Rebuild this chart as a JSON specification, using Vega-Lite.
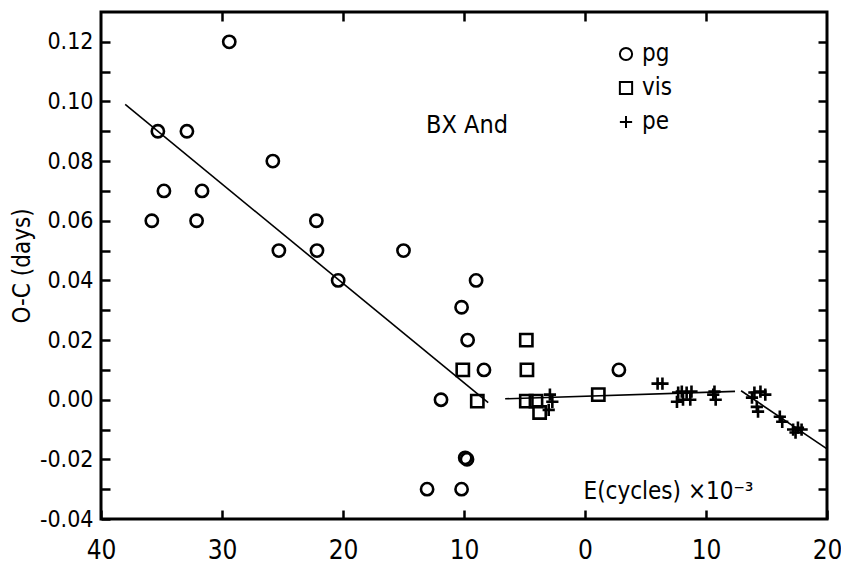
{
  "$schema": "https://vega.github.io/schema/vega-lite/v6.json",
  "width": 726,
  "height": 507,
  "autosize": "none",
  "padding": {"left": 101, "top": 12, "right": 14, "bottom": 52},
  "background": "white",
  "config": {
    "font": "DejaVu Sans Condensed, Liberation Sans Narrow, DejaVu Sans",
    "view": {"stroke": "black", "strokeWidth": 3},
    "axis": {"grid": false, "domain": false, "labelColor": "black", "titleColor": "black", "tickColor": "black", "tickWidth": 2.5, "titleFontWeight": "normal"},
    "legend": {"labelColor": "black"}
  },
  "datasets": {
    "segs": [
      {"seg": "a", "E": 38.0, "oc": 0.099},
      {"seg": "a", "E": 8.0, "oc": -0.001},
      {"seg": "b", "E": 6.6, "oc": 0.0003},
      {"seg": "b", "E": -12.4, "oc": 0.0028},
      {"seg": "c", "E": -12.9, "oc": 0.003},
      {"seg": "c", "E": -20.0, "oc": -0.0165}
    ],
    "pts": [
      {"series": "pg", "E": 35.8, "oc": 0.06},
      {"series": "pg", "E": 35.3, "oc": 0.09},
      {"series": "pg", "E": 34.8, "oc": 0.07},
      {"series": "pg", "E": 32.9, "oc": 0.09},
      {"series": "pg", "E": 32.1, "oc": 0.06},
      {"series": "pg", "E": 31.65, "oc": 0.07},
      {"series": "pg", "E": 29.4, "oc": 0.12},
      {"series": "pg", "E": 25.8, "oc": 0.08},
      {"series": "pg", "E": 25.3, "oc": 0.05},
      {"series": "pg", "E": 22.2, "oc": 0.06},
      {"series": "pg", "E": 22.15, "oc": 0.05},
      {"series": "pg", "E": 20.4, "oc": 0.04},
      {"series": "pg", "E": 15.0, "oc": 0.05},
      {"series": "pg", "E": 11.9, "oc": 0.0},
      {"series": "pg", "E": 10.2, "oc": 0.031},
      {"series": "pg", "E": 9.7, "oc": 0.02},
      {"series": "pg", "E": 9.0, "oc": 0.04},
      {"series": "pg", "E": 8.35, "oc": 0.01},
      {"series": "pg", "E": 9.75, "oc": -0.02},
      {"series": "pg", "E": 9.9, "oc": -0.0195},
      {"series": "pg", "E": 13.05, "oc": -0.03},
      {"series": "pg", "E": 10.2, "oc": -0.03},
      {"series": "pg", "E": -2.8, "oc": 0.01},
      {"series": "vis", "E": 10.1, "oc": 0.01},
      {"series": "vis", "E": 8.9, "oc": -0.0005},
      {"series": "vis", "E": 4.85, "oc": 0.02},
      {"series": "vis", "E": 4.8, "oc": 0.01},
      {"series": "vis", "E": 4.85, "oc": -0.0005},
      {"series": "vis", "E": 4.05, "oc": -0.0005},
      {"series": "vis", "E": 3.75, "oc": -0.0043},
      {"series": "vis", "E": -1.1, "oc": 0.0017},
      {"series": "pe", "E": 2.9, "oc": 0.0017},
      {"series": "pe", "E": 2.7, "oc": -0.0007},
      {"series": "pe", "E": 3.0, "oc": -0.0034},
      {"series": "pe", "E": -6.0, "oc": 0.0054},
      {"series": "pe", "E": -6.4, "oc": 0.0054},
      {"series": "pe", "E": -7.7, "oc": 0.0024},
      {"series": "pe", "E": -8.0, "oc": 0.0027},
      {"series": "pe", "E": -8.4, "oc": 0.0024},
      {"series": "pe", "E": -8.8, "oc": 0.0027},
      {"series": "pe", "E": -7.6, "oc": -0.0007},
      {"series": "pe", "E": -8.1, "oc": 0.0},
      {"series": "pe", "E": -8.7, "oc": 0.0},
      {"series": "pe", "E": -10.7, "oc": 0.0027},
      {"series": "pe", "E": -10.8, "oc": 0.0},
      {"series": "pe", "E": -10.6, "oc": 0.0017},
      {"series": "pe", "E": -14.0, "oc": 0.0024},
      {"series": "pe", "E": -14.5, "oc": 0.0027},
      {"series": "pe", "E": -14.9, "oc": 0.0017},
      {"series": "pe", "E": -13.8, "oc": 0.0007},
      {"series": "pe", "E": -14.2, "oc": -0.0024},
      {"series": "pe", "E": -14.3, "oc": -0.004},
      {"series": "pe", "E": -16.1, "oc": -0.0057},
      {"series": "pe", "E": -16.3, "oc": -0.0074},
      {"series": "pe", "E": -17.2, "oc": -0.01},
      {"series": "pe", "E": -17.6, "oc": -0.0094},
      {"series": "pe", "E": -17.9, "oc": -0.01},
      {"series": "pe", "E": -17.4, "oc": -0.011}
    ],
    "notes": [
      {"label": "BX And", "E": 9.75, "oc": 0.092}
    ]
  },
  "resolve": {"axis": {"x": "independent", "y": "independent"}},
  "layer": [
    {
      "data": {"name": "segs"},
      "mark": {"type": "line", "color": "black", "strokeWidth": 1.6},
      "encoding": {
        "x": {
          "field": "E", "type": "quantitative",
          "scale": {"domain": [-20, 40], "reverse": true, "nice": false, "zero": false},
          "axis": {
            "orient": "bottom",
            "values": [40, 30, 20, 10, 0, -10, -20],
            "labelExpr": "format(abs(datum.value), 'd')",
            "tickSize": -9,
            "labelPadding": 27,
            "labelFontSize": 26,
            "labelFlush": false,
            "title": "E(cycles) ×10⁻³",
            "titleFontSize": 24,
            "titleAlign": "left",
            "titleBaseline": "alphabetic",
            "titleX": 482,
            "titleY": -21
          }
        },
        "y": {
          "field": "oc", "type": "quantitative",
          "scale": {"domain": [-0.04, 0.13], "nice": false, "zero": false},
          "axis": {
            "orient": "left",
            "values": [-0.04, -0.03, -0.02, -0.01, 0, 0.01, 0.02, 0.03, 0.04, 0.05, 0.06, 0.07, 0.08, 0.09, 0.1, 0.11, 0.12],
            "labelExpr": "abs(round(datum.value*100)) % 2 == 0 ? replace(format(datum.value, '.2f'), '\u2212', '-') : ''",
            "tickSize": -9,
            "labelPadding": 17,
            "labelFontSize": 23,
            "labelFlush": false,
            "title": "O-C (days)",
            "titleFontSize": 24,
            "titleX": -79,
            "titleBaseline": "middle"
          }
        },
        "detail": {"field": "seg"}
      }
    },
    {
      "data": {"name": "pts"},
      "mark": {"type": "point", "stroke": "black", "strokeWidth": 2.6, "opacity": 1},
      "encoding": {
        "x": {
          "field": "E", "type": "quantitative",
          "scale": {"domain": [-20, 40], "reverse": true, "nice": false, "zero": false},
          "axis": {"orient": "top", "values": [30, 20, 10, 0, -10], "labels": false, "tickSize": -9, "title": null}
        },
        "y": {
          "field": "oc", "type": "quantitative",
          "scale": {"domain": [-0.04, 0.13], "nice": false, "zero": false},
          "axis": {"orient": "right", "values": [-0.03, -0.02, -0.01, 0, 0.01, 0.02, 0.03, 0.04, 0.05, 0.06, 0.07, 0.08, 0.09, 0.1, 0.11, 0.12], "labels": false, "tickSize": -9, "title": null}
        },
        "shape": {
          "field": "series", "type": "nominal",
          "scale": {"domain": ["pg", "vis", "pe"], "range": ["circle", "square", "M-1,0H1M0,-1V1"]},
          "legend": {"title": null, "orient": "none", "legendX": 513, "legendY": 30, "labelFontSize": 24, "rowPadding": 10, "labelOffset": 4, "symbolStrokeWidth": 2}
        },
        "fill": {
          "field": "series", "type": "nominal",
          "scale": {"domain": ["pg", "vis", "pe"], "range": ["transparent", "transparent", "transparent"]},
          "legend": {"title": null, "orient": "none", "legendX": 513, "legendY": 30, "labelFontSize": 24, "rowPadding": 10, "labelOffset": 4, "symbolStrokeWidth": 2}
        },
        "size": {
          "field": "series", "type": "nominal",
          "scale": {"domain": ["pg", "vis", "pe"], "range": [150, 150, 80]},
          "legend": {"title": null, "orient": "none", "legendX": 513, "legendY": 30, "labelFontSize": 24, "rowPadding": 10, "labelOffset": 4, "symbolStrokeWidth": 2}
        }
      }
    },
    {
      "data": {"name": "notes"},
      "mark": {"type": "text", "fontSize": 25, "color": "black", "align": "center", "baseline": "middle"},
      "encoding": {
        "x": {"field": "E", "type": "quantitative", "scale": {"domain": [-20, 40], "reverse": true, "nice": false, "zero": false}, "axis": null},
        "y": {"field": "oc", "type": "quantitative", "scale": {"domain": [-0.04, 0.13], "nice": false, "zero": false}, "axis": null},
        "text": {"field": "label"}
      }
    }
  ]
}
